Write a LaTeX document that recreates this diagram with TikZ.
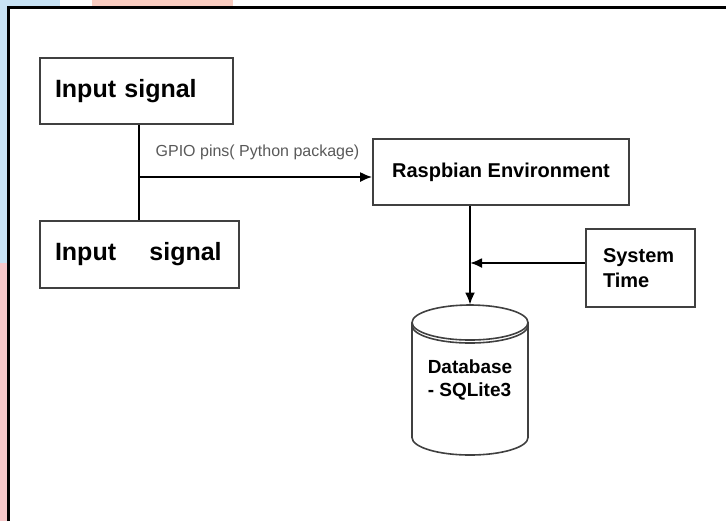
\documentclass[tikz,border=0pt]{standalone}
\usepackage{fontspec}
\setmainfont{Liberation Sans}
\usetikzlibrary{arrows.meta}

\definecolor{wmblue}{HTML}{C8E3F5}
\definecolor{wmsalmon}{HTML}{F9CCC0}
\definecolor{wmpink}{HTML}{F6C8CA}

\tikzset{
  sigbox/.style={draw=black!75, line width=0.8pt, align=left},
  flow/.style={line width=1pt, -{Latex[length=6pt,width=5pt]}},
}

\begin{document}
\begin{tikzpicture}[x=0.5pt,y=-0.5pt]
    % Поля и рамка
    \useasboundingbox (0,0) rectangle (726,521);
    \fill[wmblue] (0,0) rectangle (8,263);
    \fill[wmblue] (0,0) rectangle (60,7);
    \fill[wmsalmon] (92,0) rectangle (233,7);
    \fill[wmpink] (0,263) rectangle (8,521);
    \draw[line width=1.5pt] (8.5,521) -- (8.5,7.5) -- (726,7.5);

    % Блоки
    \node[sigbox, text width=81.5pt, inner xsep=7.5pt, minimum height=33pt,
          font=\bfseries\fontsize{12.5}{15}\selectfont] (in1) at (136.5,91) {Input signal};
    \node[sigbox, text width=84.5pt, inner xsep=7.5pt, minimum height=33.5pt,
          font=\bfseries\fontsize{12.5}{15}\selectfont] (in2) at (139.5,254.5) {Input~~~~signal};
    \node[sigbox, align=center, minimum width=128pt, minimum height=33pt,
          font=\bfseries\fontsize{10}{12}\selectfont] (rasp) at (501,172) {Raspbian Environment};
    \node[sigbox, text width=37.5pt, inner xsep=8.5pt, minimum height=39pt,
          font=\bfseries\fontsize{10}{12.5}\selectfont] (systime) at (640.5,268) {System\\Time};

    % База данных
    \node[align=left, minimum width=58pt, minimum height=75pt,
          font=\bfseries\fontsize{9.5}{11.5}\selectfont] (db) at (470,380) {Database\\{-} SQLite3};
    \draw[black!75, line width=0.8pt] (412,322.5) -- (412,437.5)
        arc[start angle=180, end angle=0, x radius=58, y radius=17.5] -- (528,322.5);
    \draw[black!75, line width=0.8pt] (470,322.5) ellipse [x radius=58, y radius=17.5];
    \draw[black!75, line width=0.8pt] (412,325.5)
        arc[start angle=180, end angle=0, x radius=58, y radius=17.5];

    % Связи
    \coordinate (tap) at (139,177);
    \draw[line width=1pt] (tap |- in1.south) -- (tap |- in2.north);
    \draw[flow] (tap) -- (tap -| rasp.west);
    \node[font=\fontsize{8}{10}\selectfont, text=black!65] (gpio) at (257.5,152) {GPIO pins( Python package)};
    \draw[flow] (db.north |- rasp.south) -- (db.north);
    \draw[flow] ([yshift=2.5pt]systime.west) -- ([yshift=2.5pt]systime.west -| db.north);
\end{tikzpicture}
\end{document}
